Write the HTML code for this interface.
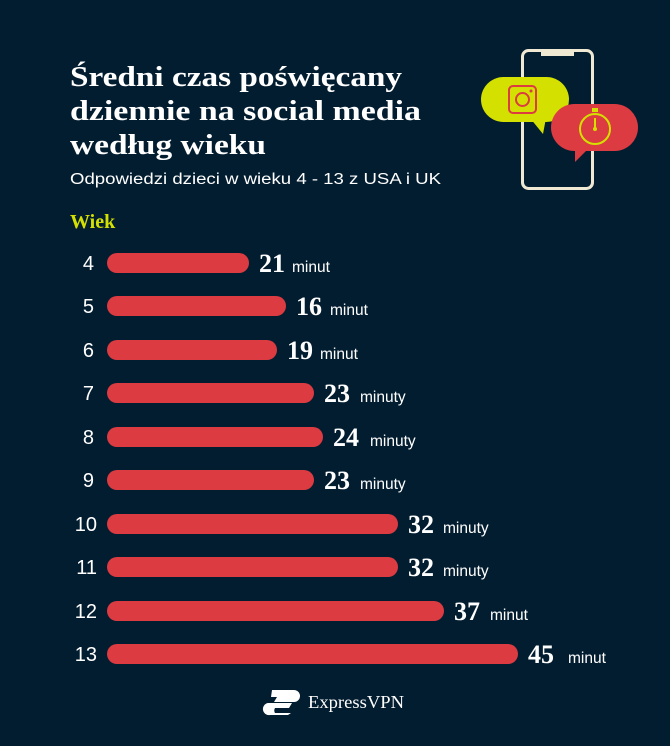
<!DOCTYPE html>
<html><head><meta charset="utf-8"><style>
body{margin:0;background:#031d30;}
svg{display:block}
</style></head><body>
<svg width="670" height="746" viewBox="0 0 670 746" xmlns="http://www.w3.org/2000/svg">
<rect width="670" height="746" fill="#031d30"/>
<g font-family="Liberation Serif, serif" font-weight="bold" fill="#ffffff" font-size="29">
<text x="70" y="86" textLength="332" lengthAdjust="spacingAndGlyphs">Średni czas poświęcany</text>
<text x="70" y="120" textLength="351" lengthAdjust="spacingAndGlyphs">dziennie na social media</text>
<text x="70" y="154" textLength="196" lengthAdjust="spacingAndGlyphs">według wieku</text>
</g>
<text x="70" y="184" font-family="Liberation Sans, sans-serif" font-size="15.5" fill="#ffffff" textLength="371" lengthAdjust="spacingAndGlyphs">Odpowiedzi dzieci w wieku 4 - 13 z USA i UK</text>
<text x="70" y="228" font-family="Liberation Serif, serif" font-weight="bold" font-size="20" fill="#d4e000">Wiek</text>
<!-- phone -->
<rect x="522.5" y="50.5" width="70" height="138" rx="6" fill="none" stroke="#efe9d4" stroke-width="3"/>
<rect x="541" y="49" width="33" height="7" fill="#efe9d4"/>
<rect x="481" y="77" width="88" height="45" rx="22.5" fill="#d4e000"/>
<path d="M530,118 L543,134 L546,118z" fill="#d4e000"/>
<rect x="509" y="86" width="27" height="27" rx="4" fill="none" stroke="#dc3b42" stroke-width="2"/>
<circle cx="522.5" cy="99.5" r="6.5" fill="none" stroke="#dc3b42" stroke-width="2"/>
<circle cx="531" cy="91" r="1.5" fill="#dc3b42"/>
<rect x="551" y="104" width="87" height="47" rx="23.5" fill="#dc3b42"/>
<path d="M575,147 L575,162 L590,147z" fill="#dc3b42"/>
<circle cx="595" cy="129" r="15" fill="none" stroke="#d4e000" stroke-width="2"/>
<rect x="592" y="108" width="6" height="4" fill="#d4e000"/>
<line x1="595" y1="118" x2="595" y2="129" stroke="#d4e000" stroke-width="2"/>
<circle cx="595" cy="129" r="2" fill="#d4e000"/>
<!-- bars -->
<g fill="#dc3b42">
<rect x="107" y="253" width="142" height="20" rx="10"/>
<rect x="107" y="296" width="179" height="20" rx="10"/>
<rect x="107" y="340" width="170" height="20" rx="10"/>
<rect x="107" y="383" width="207" height="20" rx="10"/>
<rect x="107" y="427" width="216" height="20" rx="10"/>
<rect x="107" y="470" width="207" height="20" rx="10"/>
<rect x="107" y="514" width="291" height="20" rx="10"/>
<rect x="107" y="557" width="291" height="20" rx="10"/>
<rect x="107" y="601" width="337" height="20" rx="10"/>
<rect x="107" y="644" width="411" height="20" rx="10"/>
</g>
<g font-family="Liberation Sans, sans-serif" font-size="20" fill="#ffffff" text-anchor="end">
<text x="94" y="270">4</text><text x="94" y="313">5</text><text x="94" y="357">6</text>
<text x="94" y="400">7</text><text x="94" y="444">8</text><text x="94" y="487">9</text>
<text x="97" y="531">10</text><text x="97" y="574">11</text><text x="97" y="618">12</text>
<text x="97" y="661">13</text>
</g>
<g fill="#ffffff">
<g font-family="Liberation Serif, serif" font-weight="bold" font-size="26">
<text x="259" y="272">21</text><text x="296" y="315">16</text><text x="287" y="359">19</text>
<text x="324" y="402">23</text><text x="333" y="446">24</text><text x="324" y="489">23</text>
<text x="408" y="533">32</text><text x="408" y="576">32</text><text x="454" y="620">37</text>
<text x="528" y="663">45</text>
</g>
<g font-family="Liberation Sans, sans-serif" font-size="15.5">
<text x="292" y="272">minut</text><text x="330" y="315">minut</text><text x="320" y="359">minut</text>
<text x="360" y="402">minuty</text><text x="370" y="446">minuty</text><text x="360" y="489">minuty</text>
<text x="443" y="533">minuty</text><text x="443" y="576">minuty</text><text x="490" y="620">minut</text>
<text x="568" y="663">minut</text>
</g>
</g>
<!-- logo -->
<g fill="#ffffff">
<path d="M272,690 h22 a6,6 0 0 1 0,12 h-20 l3,-5 h-6z"/>
<path d="M268,703 h24 l-3,5 h-14 a5,5 0 0 0 0,5 h16 l-3,2 h-18 a6,6 0 0 1 -2,-12z"/>
<text x="308" y="708" font-family="Liberation Serif, serif" font-size="18" textLength="96" lengthAdjust="spacingAndGlyphs">ExpressVPN</text>
</g>
</svg>
</body></html>
